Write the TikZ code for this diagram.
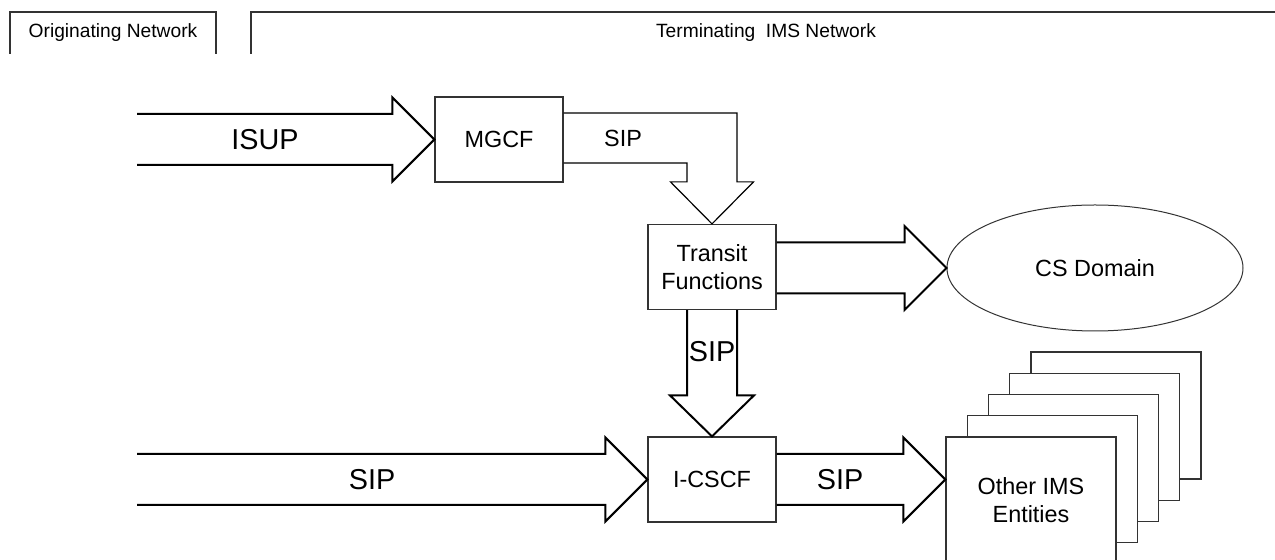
\documentclass[tikz,border=0pt]{standalone}
\usepackage{fontspec}
\setmainfont{Liberation Sans}
\usetikzlibrary{calc,shapes.geometric}

\begin{document}
\begin{tikzpicture}[
  x=0.5pt, y=-0.5pt,
  font=\fontsize{11.7}{14}\selectfont,
  box/.style={draw=black!80, line width=0.6pt, fill=white, align=center, inner sep=0pt, minimum width=64pt, minimum height=42.5pt},
  entity/.style={box, minimum width=85pt, minimum height=63.5pt},
  cloud/.style={ellipse, draw=black!80, line width=0.5pt, inner sep=0pt, minimum width=148pt, minimum height=63pt},
  frame/.style={draw=black!80, line width=0.6pt},
  fat/.style={draw, line width=1pt, miter limit=10},
  slim/.style={draw, line width=0.6pt},
  big/.style={font=\fontsize{14.4}{17}\selectfont},
  head/.style={font=\fontsize{9.6}{12}\selectfont}
]
\useasboundingbox (0,0) rectangle (1275,560);

\node[head] (orig) at (113,33) {Originating Network};
\node[head] (term) at (766,33) {Terminating\ \ IMS Network};
\draw[frame] (10,54) -- (10,12) -- (216,12) -- (216,54);
\draw[frame] (251,54) -- (251,12) -- (1275,12);

\node[box] (mgcf) at (499,139.5) {MGCF};
\node[box] (transit) at (712,267) {Transit\\Functions};
\node[box] (icscf) at (712,479.5) {I-CSCF};
\node[cloud] (cs) at (1095,268) {CS Domain};

\foreach \k in {4,3,2,1}
  \node[entity] (other\k) at ({1031+21.25*\k},{500.5-21.25*\k}) {};
\node[entity] (other) at (1031,500.5) {Other IMS\\Entities};

\coordinate (isupin) at (137,139.5);
\draw[fat] ($(isupin)+(0,-25.5)$) -- ($(mgcf.west)+(-42,-25.5)$) -- ($(mgcf.west)+(-42,-42)$) -- (mgcf.west)
  -- ($(mgcf.west)+(-42,42)$) -- ($(mgcf.west)+(-42,25.5)$) -- ($(isupin)+(0,25.5)$);
\node[big] (isup) at (265,139.5) {ISUP};

\draw[slim] ($(mgcf.east)+(0,-26.5)$) -- ($(transit.north |- mgcf.east)+(25,-26.5)$) -- ($(transit.north)+(25,-42)$)
  -- ($(transit.north)+(41.5,-42)$) -- (transit.north) -- ($(transit.north)+(-41.5,-42)$)
  -- ($(transit.north)+(-25,-42)$) -- ($(transit.north |- mgcf.east)+(-25,23.5)$) -- ($(mgcf.east)+(0,23.5)$);
\node (sipmgcf) at (623,138) {SIP};

\coordinate (cstip) at (cs.west);
\draw[fat] ($(transit.east |- cstip)+(0,-25.5)$) -- ($(cstip)+(-42,-25.5)$) -- ($(cstip)+(-42,-42)$) -- (cstip)
  -- ($(cstip)+(-42,42)$) -- ($(cstip)+(-42,25.5)$) -- ($(transit.east |- cstip)+(0,25.5)$);

\draw[fat] ($(transit.south)+(-25,0)$) -- ($(icscf.north)+(-25,-41)$) -- ($(icscf.north)+(-42,-41)$) -- (icscf.north)
  -- ($(icscf.north)+(42,-41)$) -- ($(icscf.north)+(25,-41)$) -- ($(transit.south)+(25,0)$);
\node[big, inner sep=0pt] (sipdown) at (712,352) {SIP};

\coordinate (sipin) at (137,479.5);
\draw[fat] ($(sipin)+(0,-25.5)$) -- ($(icscf.west)+(-42,-25.5)$) -- ($(icscf.west)+(-42,-42)$) -- (icscf.west)
  -- ($(icscf.west)+(-42,42)$) -- ($(icscf.west)+(-42,25.5)$) -- ($(sipin)+(0,25.5)$);
\node[big] (sipleft) at (372,479.5) {SIP};

\coordinate (othertip) at (other.west |- icscf.east);
\draw[fat] ($(icscf.east)+(0,-25.5)$) -- ($(othertip)+(-42,-25.5)$) -- ($(othertip)+(-42,-42)$) -- (othertip)
  -- ($(othertip)+(-42,42)$) -- ($(othertip)+(-42,25.5)$) -- ($(icscf.east)+(0,25.5)$);
\node[big] (sipright) at (840,479.5) {SIP};

\end{tikzpicture}
\end{document}
